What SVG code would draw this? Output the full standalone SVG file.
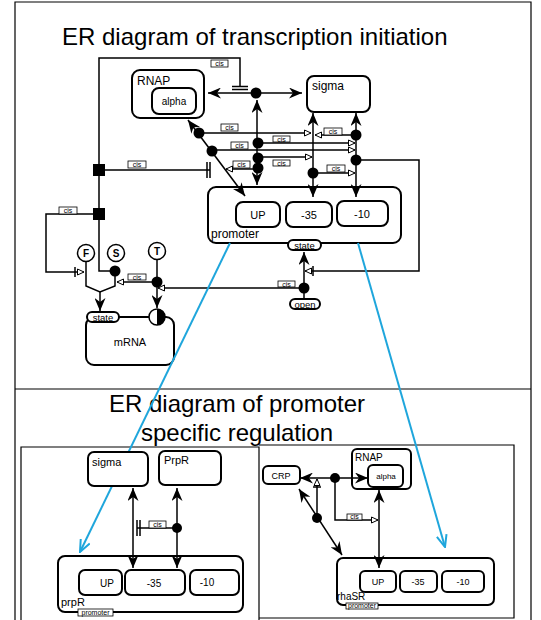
<svg xmlns="http://www.w3.org/2000/svg" width="541" height="620" viewBox="0 0 541 620">
<style>
.ln{fill:none;stroke:#000;stroke-width:1.5}
.bx{fill:#fff;stroke:#000;stroke-width:2}
.bl{fill:none;stroke:#1fa6dc;stroke-width:2}
.t{font-family:"Liberation Sans",Arial,sans-serif;fill:#000}
.cr{fill:#fff;stroke:#000;stroke-width:0.8}
.ct{font-family:"Liberation Sans",Arial,sans-serif;font-size:7px;fill:#000;text-anchor:middle}
.dot{fill:#000}
.fr{fill:none;stroke:#000;stroke-width:1.2}
</style>
<defs>
<marker id="ah" viewBox="0 0 13 11" refX="13" refY="5.5" markerWidth="13" markerHeight="11" orient="auto-start-reverse" markerUnits="userSpaceOnUse"><path d="M0,0 L13,5.5 L0,11 L4,5.5 z" fill="#000"/></marker>
<marker id="ot" viewBox="0 0 8 8" refX="7.5" refY="4" markerWidth="8" markerHeight="8" orient="auto" markerUnits="userSpaceOnUse"><path d="M1,1 L7.5,4 L1,7 z" fill="#fff" stroke="#000" stroke-width="1"/></marker>
<marker id="bv" viewBox="0 0 14 12" refX="13" refY="6" markerWidth="14" markerHeight="12" orient="auto" markerUnits="userSpaceOnUse"><path d="M1,1 L13,6 L1,11" fill="none" stroke="#1fa6dc" stroke-width="2"/></marker>
</defs>

<!-- frames -->
<g id="frames">
<path class="fr" d="M15,620 V2 H531 V620"/>
<line class="fr" x1="15" y1="389" x2="531" y2="389"/>
<path class="fr" d="M21,620 V447 H259 V620"/>
<path class="fr" d="M259,445 H514 V618 H259"/>
</g>

<text class="t" x="62" y="45" font-size="24">ER diagram of transcription initiation</text>
<text class="t" x="237" y="412" font-size="24" text-anchor="middle">ER diagram of promoter</text>
<text class="t" x="237" y="441" font-size="24" text-anchor="middle">specific regulation</text>

<!-- top nodes -->
<g id="RNAP">
<rect class="bx" x="132" y="70" width="72" height="48" rx="8"/>
<text class="t" x="137" y="85" font-size="12">RNAP</text>
</g>
<g id="alpha">
<rect class="bx" x="152" y="88" width="44" height="26" rx="7"/>
<text class="t" x="174" y="105" font-size="10" text-anchor="middle">alpha</text>
</g>
<g id="sigma">
<rect class="bx" x="307" y="76" width="63" height="36" rx="7"/>
<text class="t" x="312" y="90" font-size="12">sigma</text>
</g>
<g id="promoter">
<rect class="bx" x="208" y="187" width="193" height="56" rx="8"/>
<text class="t" x="211" y="238" font-size="12">promoter</text>
</g>
<g id="UP">
<rect class="bx" x="236" y="202" width="44" height="25" rx="7"/>
<text class="t" x="258" y="219" font-size="11" text-anchor="middle">UP</text>
</g>
<g id="m35">
<rect class="bx" x="286" y="202" width="46" height="25" rx="7"/>
<text class="t" x="309" y="219" font-size="11" text-anchor="middle">-35</text>
</g>
<g id="m10">
<rect class="bx" x="337" y="201" width="51" height="25" rx="7"/>
<text class="t" x="362" y="218" font-size="11" text-anchor="middle">-10</text>
</g>
<g id="promoter-state">
<rect class="bx" x="288" y="240" width="33" height="10" rx="5" stroke-width="1.5"/>
<text class="t" x="304.5" y="248.5" font-size="9.5" text-anchor="middle">state</text>
</g>
<g id="open">
<rect class="bx" x="290" y="299" width="30" height="10" rx="5" stroke-width="1.5"/>
<text class="t" x="305" y="307.5" font-size="9.5" text-anchor="middle">open</text>
</g>
<g id="mRNA">
<rect class="bx" x="86" y="317" width="88" height="48" rx="8"/>
<text class="t" x="130" y="346" font-size="11" text-anchor="middle">mRNA</text>
</g>
<g id="mRNA-state">
<rect class="bx" x="87" y="312" width="32" height="10" rx="5" stroke-width="1.5"/>
<text class="t" x="103" y="320.5" font-size="9.5" text-anchor="middle">state</text>
</g>
<g id="half">
<circle cx="157" cy="317" r="8" fill="#fff" stroke="#000" stroke-width="1.5"/>
<path d="M157,309 A8,8 0 0 1 157,325 z" fill="#000"/>
</g>
<g id="F">
<circle cx="86" cy="253" r="8.5" fill="#fff" stroke="#000" stroke-width="1.5"/>
<text class="t" x="86" y="257" font-size="10" font-weight="bold" text-anchor="middle">F</text>
</g>
<g id="S">
<circle cx="116" cy="253" r="8.5" fill="#fff" stroke="#000" stroke-width="1.5"/>
<text class="t" x="116" y="257" font-size="10" font-weight="bold" text-anchor="middle">S</text>
</g>
<g id="T">
<circle cx="157" cy="251" r="8.5" fill="#fff" stroke="#000" stroke-width="1.5"/>
<text class="t" x="157" y="255" font-size="10" font-weight="bold" text-anchor="middle">T</text>
</g>

<!-- top connectors -->
<g id="connectors">
<path class="ln" d="M115,271 H99 V58 H240 V86"/>
<path class="ln" d="M232,86.5 H248 M232,89.5 H248"/>
<rect x="93" y="164" width="12" height="12" fill="#000"/>
<rect x="93" y="208" width="12" height="12" fill="#000"/>
<path class="ln" d="M99,170 H210 M207,162 V178 M210,162 V178"/>
<path class="ln" d="M99,214 H46 V272 H84" marker-end="url(#ot)"/>
<path class="ln" d="M75,267 V277"/>
<path class="ln" d="M256,93 H208" marker-end="url(#ah)"/>
<path class="ln" d="M256,93 H302" marker-end="url(#ah)"/>
<path class="ln" d="M257,185 V100" marker-start="url(#ah)" marker-end="url(#ah)"/>
<path class="ln" d="M245,196 L188,120" marker-start="url(#ah)" marker-end="url(#ah)"/>
<path class="ln" d="M313,197 V113" marker-start="url(#ah)" marker-end="url(#ah)"/>
<path class="ln" d="M356,197 V113" marker-start="url(#ah)" marker-end="url(#ah)"/>
<path class="ln" d="M199,133 H311" marker-end="url(#ot)"/>
<path class="ln" d="M356,135 H315" marker-end="url(#ot)"/>
<path class="ln" d="M258,143 H355" marker-end="url(#ot)"/>
<path class="ln" d="M212,150 H355" marker-end="url(#ot)"/>
<path class="ln" d="M258,157 H312" marker-end="url(#ot)"/>
<path class="ln" d="M258,169 H226" marker-end="url(#ot)"/>
<path class="ln" d="M313,173 H355" marker-end="url(#ot)"/>
<path class="ln" d="M356,160 H419 V271 H305" marker-end="url(#ot)"/>
<path class="ln" d="M313,266 V276"/>
<path class="ln" d="M304,288 V300"/>
<path class="ln" d="M304,288 V252" marker-end="url(#ah)"/>
<path class="ln" d="M304,288 H158" marker-end="url(#ot)"/>
<path class="ln" d="M157,259.5 V281"/>
<path class="ln" d="M157,281 V308" marker-end="url(#ah)"/>
<path class="ln" d="M157,282 H117" marker-end="url(#ot)"/>
<path class="ln" d="M86,261.5 V286 L100,292 L115,286 V271"/>
<path class="ln" d="M100,292 V311" marker-end="url(#ah)"/>
<circle class="dot" cx="256" cy="93" r="5.5"/>
<circle class="dot" cx="199" cy="133" r="5.5"/>
<circle class="dot" cx="212" cy="151" r="5.5"/>
<circle class="dot" cx="258" cy="143" r="5.5"/>
<circle class="dot" cx="258" cy="158" r="5.5"/>
<circle class="dot" cx="258" cy="168" r="5.5"/>
<circle class="dot" cx="356" cy="135" r="5.5"/>
<circle class="dot" cx="356" cy="160" r="5.5"/>
<circle class="dot" cx="313" cy="173" r="5.5"/>
<circle class="dot" cx="304" cy="288" r="5.5"/>
<circle class="dot" cx="115" cy="271" r="5.5"/>
<circle class="dot" cx="157" cy="282" r="5.5"/>
<g id="cis-labels">
<rect class="cr" x="211" y="60" width="17" height="7"/><text class="ct" x="219.5" y="66">cis</text>
<rect class="cr" x="128" y="161" width="18" height="7"/><text class="ct" x="137" y="167">cis</text>
<rect class="cr" x="59" y="207" width="18" height="7"/><text class="ct" x="68" y="213">cis</text>
<rect class="cr" x="221" y="124" width="17" height="7"/><text class="ct" x="229.5" y="130">cis</text>
<rect class="cr" x="324" y="128" width="18" height="7"/><text class="ct" x="333" y="134">cis</text>
<rect class="cr" x="273" y="136" width="17" height="6"/><text class="ct" x="281.5" y="141.5">cis</text>
<rect class="cr" x="231" y="142" width="17" height="7"/><text class="ct" x="239.5" y="148">cis</text>
<rect class="cr" x="273" y="160" width="17" height="6"/><text class="ct" x="281.5" y="165.5">cis</text>
<rect class="cr" x="233" y="161" width="17" height="7"/><text class="ct" x="241.5" y="167">cis</text>
<rect class="cr" x="327" y="165" width="18" height="7" stroke-width="1.3"/><text class="ct" x="336" y="171">cis</text>
<rect class="cr" x="278" y="281" width="17" height="6"/><text class="ct" x="286.5" y="286.5">cis</text>
<rect class="cr" x="128" y="274" width="18" height="6"/><text class="ct" x="137" y="279.5">cis</text>
</g>
</g>

<!-- blue links -->
<g id="links">
<path class="bl" d="M230,243 L80,552" marker-end="url(#bv)"/>
<path class="bl" d="M358,243 L445,547" marker-end="url(#bv)"/>
</g>

<!-- bottom-left panel -->
<g id="bl-sigma">
<rect class="bx" x="88" y="452" width="60" height="34" rx="6" stroke-width="1.5"/>
<text class="t" x="92" y="466" font-size="11">sigma</text>
</g>
<g id="bl-PrpR">
<rect class="bx" x="159" y="451" width="62" height="34" rx="6" stroke-width="1.5"/>
<text class="t" x="164" y="464" font-size="11">PrpR</text>
</g>
<g id="bl-prpR">
<rect class="bx" x="58" y="556" width="185" height="56" rx="7" stroke-width="1.5"/>
<text class="t" x="61" y="606" font-size="11">prpR</text>
<rect class="cr" x="78" y="609" width="35" height="7"/>
<text class="ct" x="95.5" y="615">promoter</text>
</g>
<g id="bl-UP">
<rect class="bx" x="79" y="570" width="43" height="25" rx="6" stroke-width="1.5"/>
<text class="t" x="107" y="587" font-size="10" text-anchor="middle">UP</text>
</g>
<g id="bl-35">
<rect class="bx" x="125" y="570" width="60" height="25" rx="6" stroke-width="1.5"/>
<text class="t" x="154" y="587" font-size="10" text-anchor="middle">-35</text>
</g>
<g id="bl-10">
<rect class="bx" x="190" y="570" width="49" height="25" rx="6" stroke-width="1.5"/>
<text class="t" x="207" y="586" font-size="10" text-anchor="middle">-10</text>
</g>
<g id="bl-connectors">
<path class="ln" d="M133,568 V488" marker-start="url(#ah)" marker-end="url(#ah)" stroke-width="1.2"/>
<path class="ln" d="M177,568 V488" marker-start="url(#ah)" marker-end="url(#ah)" stroke-width="1.2"/>
<path class="ln" d="M177,528 H137 M137,520 V536 M140,520 V536" stroke-width="1.2"/>
<circle class="dot" cx="177" cy="528" r="5"/>
<rect class="cr" x="149" y="521" width="17" height="7"/><text class="ct" x="157.5" y="527">cis</text>
</g>

<!-- bottom-right panel -->
<g id="br-CRP">
<rect class="bx" x="263" y="466" width="37" height="18" rx="5" stroke-width="1.5"/>
<text class="t" x="281" y="479" font-size="9" text-anchor="middle">CRP</text>
</g>
<g id="br-RNAP">
<rect class="bx" x="352" y="449" width="59" height="40" rx="5" stroke-width="1.5"/>
<text class="t" x="355" y="461" font-size="10">RNAP</text>
</g>
<g id="br-alpha">
<rect class="bx" x="368" y="465" width="35" height="22" rx="5" stroke-width="1.5"/>
<text class="t" x="386" y="479" font-size="8" text-anchor="middle">alpha</text>
</g>
<g id="br-rhaSR">
<rect class="bx" x="337" y="558" width="157" height="47" rx="6" stroke-width="1.5"/>
<text class="t" x="337" y="600" font-size="10">rhaSR</text>
<rect class="cr" x="346" y="603" width="32" height="6"/>
<text class="ct" x="362" y="608" font-size="6">promoter</text>
</g>
<g id="br-UP">
<rect class="bx" x="360" y="571" width="36" height="21" rx="5" stroke-width="1.5"/>
<text class="t" x="378" y="585" font-size="9" text-anchor="middle">UP</text>
</g>
<g id="br-35">
<rect class="bx" x="400" y="571" width="37" height="21" rx="5" stroke-width="1.5"/>
<text class="t" x="418" y="585" font-size="9" text-anchor="middle">-35</text>
</g>
<g id="br-10">
<rect class="bx" x="442" y="571" width="42" height="21" rx="5" stroke-width="1.5"/>
<text class="t" x="463" y="585" font-size="9" text-anchor="middle">-10</text>
</g>
<g id="br-connectors">
<path class="ln" d="M335,478 H368" marker-end="url(#ah)" stroke-width="1.2"/>
<path class="ln" d="M335,478 H300" marker-end="url(#ah)" stroke-width="1.2"/>
<path class="ln" d="M335,478 V520 H378" marker-end="url(#ot)" stroke-width="1.2"/>
<path class="ln" d="M379,568 V490" marker-start="url(#ah)" marker-end="url(#ah)" stroke-width="1.2"/>
<path class="ln" d="M342,555 L299,489" marker-start="url(#ah)" marker-end="url(#ah)" stroke-width="1.2"/>
<path class="ln" d="M317,518 V479" marker-end="url(#ot)" stroke-width="1.2"/>
<path class="ln" d="M313,487 H321" stroke-width="1.2"/>
<circle class="dot" cx="335" cy="478" r="5"/>
<circle class="dot" cx="317" cy="518" r="5"/>
<rect class="cr" x="347" y="514" width="15" height="6"/><text class="ct" x="354.5" y="519" font-size="6">cis</text>
</g>
</svg>
